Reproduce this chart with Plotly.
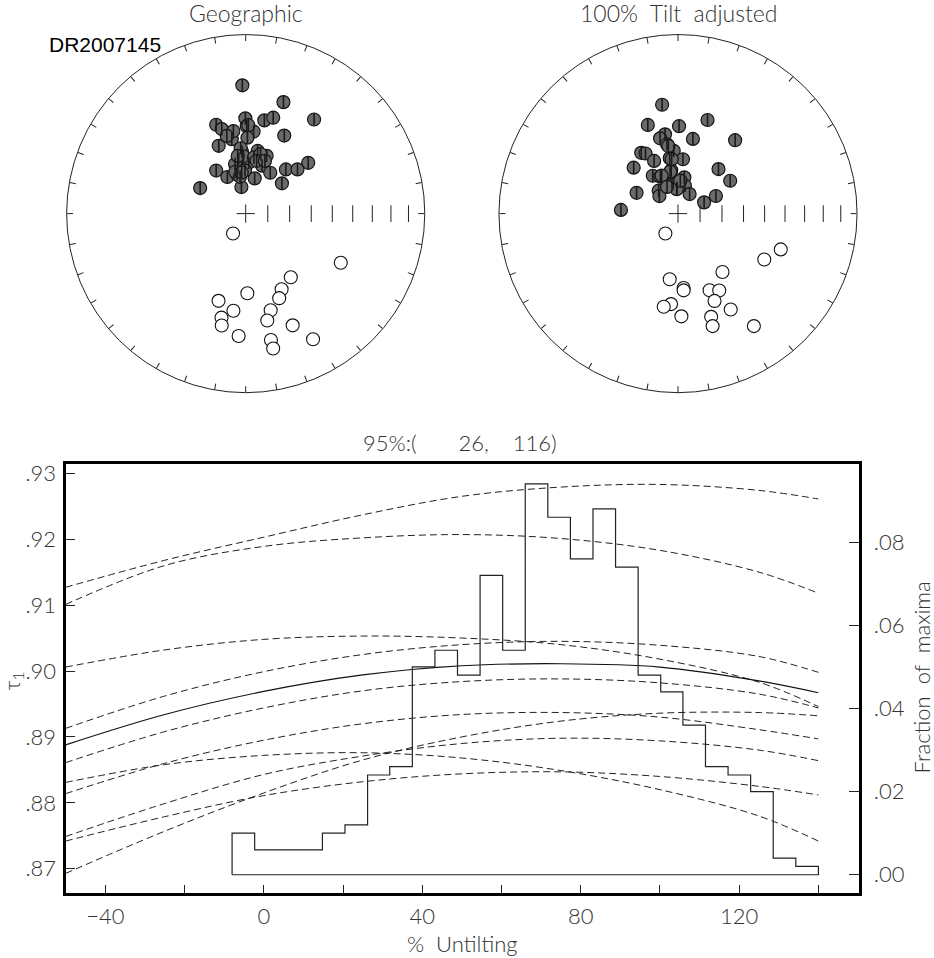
import numpy as np
import plotly.graph_objects as go

# ---------------- bottom panel data ----------------
untilt = [-50, -25, 0, 25, 50, 75, 100, 125, 140]
tau_data = [.8888, .8934, .8969, .8994, .9008, .9011, .9006, .8985, .8967]
boot_01 = [.9127, .9168, .9203, .9237, .9265, .9279, .9283, .9274, .9261]
boot_02 = [.9101, .9160, .9189, .9202, .9207, .9201, .9183, .9150, .9118]
boot_03 = [.9006, .9032, .9048, .9053, .9050, .9040, .9018, .8983, .8946]
boot_04 = [.8913, .8962, .8999, .9025, .9040, .9045, .9039, .9022, .8998]
boot_05 = [.8861, .8908, .8944, .8970, .8984, .8988, .8982, .8965, .8944]
boot_06 = [.8814, .8860, .8895, .8920, .8934, .8937, .8930, .8911, .8897]
boot_07 = [.8831, .8858, .8872, .8876, .8868, .8849, .8820, .8780, .8742]
boot_08 = [.8749, .8799, .8843, .8871, .8890, .8898, .8894, .8880, .8864]
boot_09 = [.8693, .8757, .8815, .8865, .8900, .8924, .8936, .8937, .8932]
boot_10 = [.8742, .8779, .8811, .8832, .8844, .8847, .8840, .8825, .8812]

bin_edges = [-8.0, -2.3, 3.4, 9.1, 14.8, 20.5, 26.2, 31.8, 37.5, 43.2, 48.9, 54.6, 60.3,
             66.0, 71.7, 77.4, 83.1, 88.8, 94.5, 100.2, 105.8, 111.5, 117.2, 122.9,
             128.6, 134.3, 140.0]
frac_maxima = [.010, .006, .006, .006, .010, .012, .024, .026, .050, .054, .048, .072, .054,
               .094, .086, .076, .088, .074, .048, .044, .036, .026, .024, .020, .004, .002]

x_tickvals = [-40, 0, 40, 80, 120]
x_ticktext = ['\u221240', '0', '40', '80', '120']
x_minor_tickvals = [-20, 20, 60, 100, 140]
tau_tickvals = [.87, .88, .89, .90, .91, .92, .93]
tau_ticktext = ['.87', '.88', '.89', '.90', '.91', '.92', '.93']
frac_tickvals = [0, .02, .04, .06, .08]
frac_ticktext = ['.00', '.02', '.04', '.06', '.08']

# ---------------- stereonet data (declination, inclination) ----------------
geo_dec_down = [358.5, 18.7, 359.8, 11.3, 16.0, 36.0, 341.6, 344.2, 0.7, 5.5, 349.4, 26.3, 338.3,
                1.3, 356.6, 10.8, 19.9, 352.7, 3.4, 50.9, 325.6, 350.0, 18.8, 31.0, 42.3, 49.5,
                333.4, 347.6, 14.3, 50.1, 350.8, 299.3, 351.5, 346.3, 355.6, 357.7, 347.9, 8.4,
                14.1, 346.1, 351.3, 359.1, 1.7, 11.7, 20.0, 352.1, 354.5]
geo_inc_down = [29.1, 34.6, 45.8, 45.9, 43.6, 35.3, 46.6, 49.4, 49.6, 52.0, 55.2, 49.8, 56.5,
                55.1, 61.7, 60.8, 61.9, 64.8, 66.8, 52.9, 66.2, 69.1, 66.9, 68.3, 62.7, 58.8,
                71.4, 71.8, 73.5, 68.5, 77.8, 66.2, 51.5, 53.2, 60.0, 63.8, 66.9, 64.1,
                62.0, 70.4, 73.1, 70.3, 49.1, 65.4, 64.4, 63.4, 71.2]
geo_dec_up = [212.4, 117.3, 144.7, 154.6, 178.8, 158.4, 197.3, 187.2, 165.5, 193.1, 192.1,
              168.6, 157.2, 183.3, 168.7, 151.8, 168.5]
geo_inc_up = [-79.3, -40.0, -54.1, -51.4, -53.3, -47.9, -47.7, -44.5, -43.6, -40.1, -36.3,
              -39.0, -32.8, -32.1, -28.8, -21.5, -24.1]

tilt_dec_down = [351.7, 341.2, 0.7, 17.5, 350.7, 11.3, 37.9, 346.6, 351.0, 356.1, 328.8, 331.6,
                 351.5, 5.2, 335.6, 316.0, 351.1, 42.3, 326.3, 334.5, 349.1, 9.9, 57.8, 348.3,
                 357.8, 14.0, 296.7, 319.9, 313.4, 30.7, 65.1, 66.7, 273.7, 349.5, 336.7, 356.9,
                 337.8, 353.4, 351.9, 4.0]
tilt_inc_down = [38.5, 46.6, 49.6, 44.4, 53.0, 55.0, 46.9, 54.4, 57.8, 61.2, 57.4, 58.7,
                 64.4, 65.1, 63.6, 60.8, 70.1, 62.5, 69.3, 71.4, 71.7, 73.3, 61.8, 76.6,
                 78.4, 77.0, 68.9, 76.4, 78.4, 79.7, 71.0, 77.1, 63.9, 70.6, 71.2, 78.9,
                 76.9, 65.0, 58.7, 75.0]
tilt_dec_up = [212.3, 109.2, 118.0, 142.7, 187.2, 175.7, 175.8, 157.6, 151.8, 157.3, 184.4,
               188.7, 151.2, 178.1, 162.2, 162.9, 146.0]
tilt_inc_up = [-79.3, -39.1, -44.6, -56.3, -59.7, -55.7, -54.6, -51.8, -49.7, -46.1, -48.0,
               -46.3, -38.8, -42.1, -39.3, -34.6, -25.2]

net_incs = [80, 70, 60, 50, 40, 30, 20, 10]


def ea(inc):
    """Equal-area (Schmidt) radius for an inclination."""
    return list(np.sqrt(2) * np.sin(np.radians(90 - np.abs(np.asarray(inc, float))) / 2))


# the page body margin is removed (post_script below) so the figure fills the window
W, H = 934, 958
def px(x):
    return x / W
def py(y):
    return 1 - y / H

FONT = 'Lato'
TXT = '#333333'
INK = '#222222'

fig = go.Figure()

# ---------------- stereonets ----------------
def add_net(sub, dec_d, inc_d, dec_u, inc_u):
    fig.add_trace(go.Scatterpolar(r=ea(inc_d), theta=dec_d, mode='markers', subplot=sub,
                                  marker=dict(size=13, color='#6a6a6a',
                                              line=dict(color='#151515', width=1.2)),
                                  showlegend=False, hoverinfo='skip'))
    fig.add_trace(go.Scatterpolar(r=ea(inc_d), theta=dec_d, mode='markers', subplot=sub,
                                  marker=dict(size=9, symbol='line-ns',
                                              line=dict(color='#1a1a1a', width=1.6)),
                                  showlegend=False, hoverinfo='skip'))
    fig.add_trace(go.Scatterpolar(r=ea(inc_u), theta=dec_u, mode='markers', subplot=sub,
                                  marker=dict(size=13, color='white',
                                              line=dict(color='#111111', width=1.1)),
                                  showlegend=False, hoverinfo='skip'))
    fig.add_trace(go.Scatterpolar(r=ea(net_incs), theta=[90] * len(net_incs), mode='markers',
                                  subplot=sub,
                                  marker=dict(size=12, symbol='line-ns',
                                              line=dict(color=INK, width=1)),
                                  showlegend=False, hoverinfo='skip'))
    fig.add_trace(go.Scatterpolar(r=[0], theta=[0], mode='markers', subplot=sub,
                                  marker=dict(size=13, symbol='cross-thin',
                                              line=dict(color=INK, width=1)),
                                  showlegend=False, hoverinfo='skip'))

add_net('polar', geo_dec_down, geo_inc_down, geo_dec_up, geo_inc_up)
add_net('polar2', tilt_dec_down, tilt_inc_down, tilt_dec_up, tilt_inc_up)

polar_common = dict(
    bgcolor='white',
    radialaxis=dict(range=[0, 1], visible=False, showgrid=False),
    angularaxis=dict(rotation=90, direction='clockwise', tickmode='linear', tick0=0, dtick=10,
                     ticks='inside', ticklen=6, tickwidth=1, tickcolor=INK,
                     showticklabels=False, showgrid=False, showline=True,
                     linecolor=INK, linewidth=1),
)

# ---------------- bottom panel ----------------
for b in (boot_01, boot_02, boot_03, boot_04, boot_05, boot_06, boot_07, boot_08, boot_09, boot_10):
    fig.add_trace(go.Scatter(x=untilt, y=b, mode='lines', xaxis='x', yaxis='y',
                             line=dict(color=INK, width=1, dash='7px,4px', shape='spline'),
                             showlegend=False, hoverinfo='skip'))
fig.add_trace(go.Scatter(x=untilt, y=tau_data, mode='lines', xaxis='x', yaxis='y',
                         line=dict(color='#111111', width=1.2, shape='spline'),
                         showlegend=False, hoverinfo='skip'))

hx = [bin_edges[0]] + bin_edges[:-1] + [bin_edges[-1], bin_edges[0]]
hy = [0] + frac_maxima + [0, 0]
fig.add_trace(go.Scatter(x=hx, y=hy, mode='lines', xaxis='x', yaxis='y2',
                         line=dict(color=INK, width=1.2, shape='hv'),
                         showlegend=False, hoverinfo='skip'))

tickfont = dict(family=FONT, size=22, color=TXT, weight=300)

fig.update_layout(
    width=W, height=H, autosize=False,
    margin=dict(l=0, r=0, t=0, b=0),
    paper_bgcolor='white', plot_bgcolor='white',
    showlegend=False,
    polar=dict(domain=dict(x=[px(65.7), px(425.7)], y=[py(389.7), py(29.7)]), **polar_common),
    polar2=dict(domain=dict(x=[px(498), px(858)], y=[py(389.7), py(29.7)]), **polar_common),
    xaxis=dict(domain=[px(65.5), px(858.8)], range=[-50.05, 150.2], anchor='y',
               tickmode='array', tickvals=x_tickvals, ticktext=x_ticktext,
               ticks='inside', ticklen=8, tickwidth=1.2, tickcolor=INK,
               minor=dict(tickmode='array', tickvals=x_minor_tickvals, ticks='inside',
                          ticklen=8, tickwidth=1.2, tickcolor=INK, showgrid=False),
               showline=True, linewidth=3, linecolor='black', mirror=True,
               showgrid=False, zeroline=False, tickfont=tickfont, ticklabelstandoff=1),
    yaxis=dict(domain=[py(893), py(461.3)], range=[.86627, .93142], anchor='x',
               tickmode='array', tickvals=tau_tickvals, ticktext=tau_ticktext,
               ticks='inside', ticklen=9, tickwidth=1.2, tickcolor=INK,
               showline=True, linewidth=3, linecolor='black', mirror=True,
               showgrid=False, zeroline=False, tickfont=tickfont, ticklabelstandoff=2),
    yaxis2=dict(overlaying='y', side='right', anchor='x', range=[-.00447, .09883],
                tickmode='array', tickvals=frac_tickvals, ticktext=frac_ticktext,
                ticks='inside', ticklen=10, tickwidth=1.2, tickcolor=INK,
                showline=False, showgrid=False, zeroline=False, tickfont=tickfont,
                ticklabelstandoff=14),
)

def note(text, x, y, size=22, color=TXT, family=FONT, angle=0, xanchor='center', weight=300):
    fig.add_annotation(text=text, x=px(x), y=py(y), xref='paper', yref='paper',
                       showarrow=False, textangle=angle, xanchor=xanchor, yanchor='middle',
                       font=dict(family=family, size=size, color=color, weight=weight))

note('Geographic', 246, 8, size=23)
note('100%\u00a0\u00a0Tilt\u00a0\u00a0adjusted', 678, 8, size=23)
note('DR2007145', 47, 40, size=21, color='black', family='Liberation Sans', xanchor='left',
     weight=400)
note('95%:(' + '\u00a0' * 7 + '26,' + '\u00a0' * 4 + '116)', 460, 440)
note('%\u00a0\u00a0Untilting', 462, 943)
note('\u03c4<sub>1</sub>', 13, 680, angle=-90)
note('Fraction\u00a0\u00a0of\u00a0\u00a0maxima', 921, 676, angle=-90)

fig.write_html('out.html', config={'displayModeBar': False},
               post_script="document.body.style.margin='0';document.body.style.overflow='hidden';")
